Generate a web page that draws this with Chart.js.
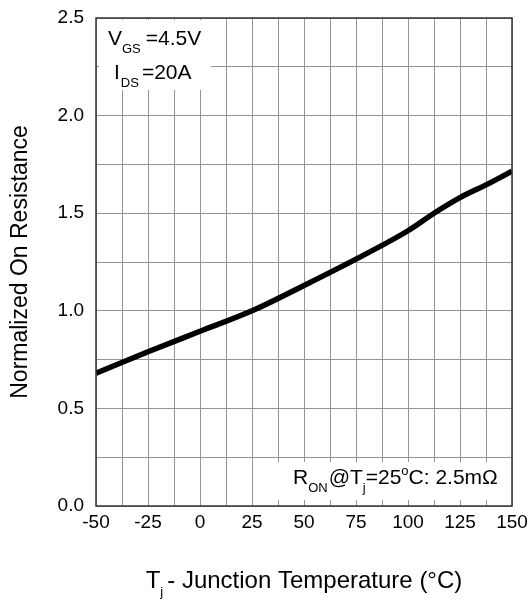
<!DOCTYPE html>
<html>
<head>
<meta charset="utf-8">
<script src="https://cdn.jsdelivr.net/npm/chart.js@4"></script>
<style>
  html, body { margin: 0; padding: 0; background: #fff; }
  #wrap { width: 530px; height: 601px; }
</style>
</head>
<body>
<div id="wrap"><canvas id="chart" width="530" height="601"></canvas></div>
<script>
// junction temperature (°C) and normalized on resistance
const temps = [-50, -25, 0, 25, 50, 75, 100, 112.5, 125, 137.5, 150];
const ronNorm = [0.68, 0.79, 0.895, 1.0, 1.13, 1.265, 1.41, 1.5, 1.58, 1.645, 1.715];

const xTicks = [-50, -25, 0, 25, 50, 75, 100, 125, 150];
const yTicks = ["0.0", "0.5", "1.0", "1.5", "2.0", "2.5"];

const FONT = "'Liberation Sans', Arial, sans-serif";
Chart.defaults.font.family = FONT;
Chart.defaults.color = "#000";

const GRID = "#959595";

// draws text pieces with subscripts / superscripts, left to right
function richText(ctx, x, y, parts){
  parts.forEach(p => {
    const size = p.sub || p.sup ? 13 : 21;
    ctx.font = size + "px " + FONT;
    let dy = 0;
    if(p.sub) dy = 8;
    if(p.sup) dy = -9;
    ctx.fillText(p.t, x, y + dy);
    x += ctx.measureText(p.t).width + (p.gap || 0);
  });
}

const overlay = {
  id: "overlay",
  afterDraw(chart){
    const ctx = chart.ctx;
    const a = chart.chartArea;
    ctx.save();

    // white label boxes over the grid
    ctx.fillStyle = "#fff";
    ctx.fillRect(a.left + 3, a.top + 2, 112, 70);
    ctx.fillRect(268, 462, a.right - 270, 38);

    // plot frame
    ctx.strokeStyle = "#333";
    ctx.lineWidth = 1.5;
    ctx.strokeRect(a.left, a.top, a.right - a.left, a.bottom - a.top);

    ctx.fillStyle = "#000";
    ctx.textBaseline = "alphabetic";
    ctx.textAlign = "left";
    richText(ctx, 108, 45, [{t: "V", gap: 0}, {t: "GS", sub: true, gap: 5}, {t: "=4.5V"}]);
    richText(ctx, 114, 79, [{t: "I", gap: 1}, {t: "DS", sub: true, gap: 3}, {t: "=20A"}]);
    richText(ctx, 293, 484, [
      {t: "R"}, {t: "ON", sub: true, gap: 1}, {t: "@T"}, {t: "j", sub: true},
      {t: "=25"}, {t: "o", sup: true}, {t: "C: 2.5m\u03A9"}
    ]);

    // axis titles
    ctx.font = "23px " + FONT;
    ctx.textAlign = "center";
    ctx.textBaseline = "middle";
    ctx.save();
    ctx.translate(21, (a.top + a.bottom) / 2);
    ctx.rotate(-Math.PI / 2);
    ctx.fillText("Normalized On Resistance", 0, 0);
    ctx.restore();

    ctx.textAlign = "left";
    ctx.textBaseline = "alphabetic";
    const t1 = "T", t2 = "j", t3 = "- Junction Temperature (\u00B0C)";
    ctx.font = "24px " + FONT;
    const w1 = ctx.measureText(t1).width;
    const w3 = ctx.measureText(t3).width;
    ctx.font = "13px " + FONT;
    const w2 = ctx.measureText(t2).width + 4;
    let x = (a.left + a.right) / 2 - (w1 + w2 + w3) / 2;
    ctx.font = "24px " + FONT;
    ctx.fillText(t1, x, 588);
    ctx.font = "13px " + FONT;
    ctx.fillText(t2, x + w1, 596);
    ctx.font = "24px " + FONT;
    ctx.fillText(t3, x + w1 + w2, 588);

    ctx.restore();
  }
};

new Chart(document.getElementById("chart"), {
  type: "line",
  data: {
    datasets: [{
      data: temps.map((t, i) => ({x: t, y: ronNorm[i]})),
      borderColor: "#000",
      borderWidth: 5.5,
      pointRadius: 0,
      cubicInterpolationMode: "monotone",
      clip: 0,
      fill: false
    }]
  },
  options: {
    responsive: false,
    animation: false,
    layout: { padding: { top: 18, right: 18, left: 0, bottom: 0 } },
    plugins: { legend: { display: false }, tooltip: { enabled: false } },
    scales: {
      x: {
        type: "linear",
        min: -50, max: 150,
        afterFit: s => { s.height = 95; s.paddingLeft = 0; s.paddingRight = 0; },
        border: { display: false },
        grid: { color: GRID, lineWidth: 1, drawTicks: false },
        ticks: {
          stepSize: 12.5, autoSkip: false, maxRotation: 0, padding: 5,
          font: { size: 19 },
          callback: v => xTicks.includes(v) ? String(v) : ""
        }
      },
      y: {
        min: 0, max: 2.5,
        afterFit: s => { s.width = 96; s.paddingTop = 0; s.paddingBottom = 0; },
        border: { display: false },
        grid: { color: GRID, lineWidth: 1, drawTicks: false },
        ticks: {
          stepSize: 0.25, autoSkip: false, padding: 12,
          font: { size: 19 },
          callback: v => {
            const lbl = v.toFixed(1);
            return Math.abs(v * 2 - Math.round(v * 2)) < 1e-6 && yTicks.includes(lbl) ? lbl : "";
          }
        }
      }
    }
  },
  plugins: [overlay]
});
</script>
</body>
</html>
